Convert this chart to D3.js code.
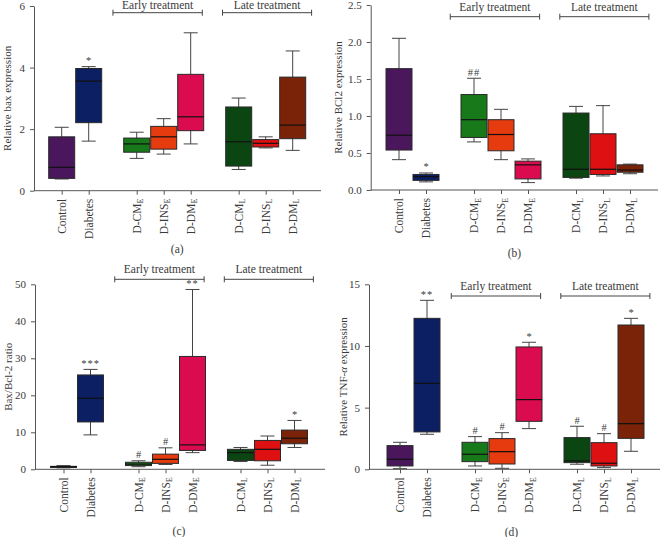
<!DOCTYPE html>
<html><head><meta charset="utf-8">
<script src="https://cdn.jsdelivr.net/npm/d3@7"></script>
<style>
body{margin:0;background:#fff}
svg{display:block}
text{font-family:"Liberation Serif","Times New Roman",serif;fill:#3a3a3a}
</style>
</head><body>
<svg id="chart" width="660" height="537"></svg>
<script>
// ---------- data ----------
const catBase  = ["Control","Diabetes","D-CM","D-INS","D-DM","D-CM","D-INS","D-DM"];
const catSub   = ["","","E","E","E","L","L","L"];
const catGroup = [0,0,1,1,1,2,2,2];
const boxColors = ["#4a165c","#0c1f63","#17791a","#e63a0f","#da0b4e","#0b4612","#df1012","#7a2308"];
const groupLabels = ["Early treatment","Late treatment"];

// (a) Relative bax expression
const baxMin = [0.38,1.61,1.05,1.19,1.52,0.69,1.39,1.31];
const baxQ1  = [0.40,2.21,1.25,1.35,1.95,0.80,1.42,1.69];
const baxMed = [0.76,3.56,1.52,1.75,2.40,1.59,1.54,2.13];
const baxQ3  = [1.75,3.97,1.71,2.09,3.78,2.72,1.66,3.69];
const baxMax = [2.06,4.03,1.90,2.34,5.13,3.01,1.75,4.54];
const baxSig = ["","*","","","","","",""];
const baxTicks = [0,2,4,6];

// (b) Relative BCl2 expression
const bclMin = [0.41,0.11,0.65,0.41,0.10,0.16,0.19,0.22];
const bclQ1  = [0.54,0.13,0.71,0.53,0.15,0.17,0.21,0.24];
const bclMed = [0.74,0.18,0.95,0.75,0.34,0.28,0.28,0.27];
const bclQ3  = [1.64,0.21,1.29,0.95,0.39,1.04,0.76,0.34];
const bclMax = [2.05,0.23,1.51,1.09,0.42,1.13,1.14,0.35];
const bclSig = ["","*","##","","","","",""];
const bclTicks = [0,0.5,1.0,1.5,2.0,2.5];

// (c) Bax/Bcl-2 ratio
const ratMin = [0.4,9.3,0.7,1.3,4.5,2.1,1.1,5.9];
const ratQ1  = [0.5,12.8,1.0,1.6,5.1,2.4,2.3,6.9];
const ratMed = [0.7,19.2,1.4,2.7,6.6,4.5,5.4,8.4];
const ratQ3  = [0.8,25.5,1.9,4.1,30.5,5.4,7.8,10.6];
const ratMax = [1.0,27.0,2.3,5.8,48.6,5.9,9.0,13.2];
const ratSig = ["","***","#","#","**","","","*"];
const ratTicks = [0,10,20,30,40,50];

// (d) Relative TNF-α expression
const tnfMin = [0.05,2.84,0.27,0.08,3.30,0.41,0.14,1.46];
const tnfQ1  = [0.27,3.03,0.62,0.43,3.89,0.54,0.27,2.51];
const tnfMed = [0.81,6.97,1.22,1.43,5.65,0.68,0.49,3.70];
const tnfQ3  = [1.92,12.24,2.19,2.49,9.92,2.57,2.16,11.70];
const tnfMax = [2.19,13.70,2.65,2.97,10.30,3.49,2.89,12.24];
const tnfSig = ["","**","#","#","*","#","#","*"];
const tnfTicks = [0,5,10,15];

// ---------- layout ----------
const svg = d3.select("#chart");
const STEP = 27, GAP = 21, CAP = 14;
const slots = catGroup.map((g,i)=> i + g*GAP/STEP);

const panels = [
  {tag:"(a)", min:baxMin,q1:baxQ1,med:baxMed,q3:baxQ3,max:baxMax,sig:baxSig,ticks:baxTicks,fmt:d3.format("d"),
   title:["Relative bax expression"], axisX:34, axisEnd:321, y0:190.7, yT:6, first:61.7, brY:12.7, labX:11, tagY:253},
  {tag:"(b)", min:bclMin,q1:bclQ1,med:bclMed,q3:bclQ3,max:bclMax,sig:bclSig,ticks:bclTicks,fmt:d3.format(".1f"),
   title:["Relative BCl2 expression"], axisX:370.7, axisEnd:658, y0:190, yT:5, first:399, brY:16.7, labX:341.5, tagY:257},
  {tag:"(c)", min:ratMin,q1:ratQ1,med:ratMed,q3:ratQ3,max:ratMax,sig:ratSig,ticks:ratTicks,fmt:d3.format("d"),
   title:["Bax/Bcl-2 ratio"], axisX:35, axisEnd:325, y0:469.3, yT:284.3, first:63.5, brY:279.3, labX:12, tagY:535},
  {tag:"(d)", min:tnfMin,q1:tnfQ1,med:tnfMed,q3:tnfQ3,max:tnfMax,sig:tnfSig,ticks:tnfTicks,fmt:d3.format("d"),
   title:["Relative TNF-","α"," expression"], axisX:369, axisEnd:660, y0:469.3, yT:284.3, first:400, brY:296, labX:346.5, tagY:536}
];

panels.forEach(p=>{
  const g = svg.append("g");
  const y = d3.scaleLinear().domain([0, d3.max(p.ticks)]).range([p.y0, p.yT]);
  const x = d3.scaleLinear().domain([0,1]).range([p.first, p.first+STEP]);

  // y axis
  const ya = g.append("g").attr("transform",`translate(${p.axisX},0)`)
    .call(d3.axisLeft(y).tickValues(p.ticks).tickFormat(p.fmt).tickSize(4).tickPadding(5).tickSizeOuter(0));
  ya.select(".domain").attr("stroke","#555");
  ya.selectAll(".tick line").attr("stroke","#555");
  ya.selectAll(".tick text").attr("font-family","Liberation Serif").attr("font-size",11).attr("fill","#3a3a3a");

  // x axis
  g.append("line").attr("x1",p.axisX).attr("x2",p.axisEnd).attr("y1",p.y0).attr("y2",p.y0)
    .attr("stroke","#555").attr("stroke-width",1);
  const xa = g.append("g").attr("transform",`translate(0,${p.y0})`)
    .call(d3.axisBottom(x).tickValues(slots).tickFormat("").tickSize(4).tickSizeOuter(0));
  xa.select(".domain").remove();
  xa.selectAll(".tick line").attr("stroke","#555");

  // x labels
  slots.forEach((s,i)=>{
    const t = g.append("text")
      .attr("transform",`translate(${x(s)},${p.y0+8}) rotate(-90)`)
      .attr("text-anchor","end").attr("dy","0.35em").attr("font-size",11.5);
    t.append("tspan").text(catBase[i]);
    if(catSub[i]) t.append("tspan").attr("font-size",8).attr("dy",2.5).text(catSub[i]);
  });

  // boxes
  slots.forEach((s,i)=>{
    const cx = x(s), hw = STEP/2;
    g.append("line").attr("x1",cx).attr("x2",cx).attr("y1",y(p.max[i])).attr("y2",y(p.min[i]))
      .attr("stroke","#444").attr("stroke-width",1);
    [p.max[i],p.min[i]].forEach(v=>{
      g.append("line").attr("x1",cx-CAP/2).attr("x2",cx+CAP/2).attr("y1",y(v)).attr("y2",y(v))
        .attr("stroke","#444").attr("stroke-width",1);
    });
    g.append("rect").attr("x",cx-hw+0.5).attr("width",STEP-1)
      .attr("y",y(p.q3[i])).attr("height",Math.max(1,y(p.q1[i])-y(p.q3[i])))
      .attr("fill",boxColors[i]).attr("stroke","#2a2a2a").attr("stroke-width",1);
    g.append("line").attr("x1",cx-hw+0.5).attr("x2",cx+hw-0.5).attr("y1",y(p.med[i])).attr("y2",y(p.med[i]))
      .attr("stroke","#111").attr("stroke-width",1.2);
    if(p.sig[i]){
      g.append("text").attr("x",cx).attr("y",y(p.max[i])-2.5).attr("text-anchor","middle")
        .attr("font-size",10.5).attr("fill","#555").attr("letter-spacing",p.sig[i].length>1?1:0).text(p.sig[i]);
    }
  });

  // brackets
  const brs = [[x(slots[2])-0.88*STEP, x(slots[4])+0.43*STEP],[x(slots[5])-0.6*STEP, x(slots[7])+0.7*STEP]];
  brs.forEach((b,k)=>{
    g.append("line").attr("x1",b[0]).attr("x2",b[1]).attr("y1",p.brY).attr("y2",p.brY).attr("stroke","#444");
    [b[0],b[1]].forEach(xx=>g.append("line").attr("x1",xx).attr("x2",xx).attr("y1",p.brY-3).attr("y2",p.brY+3).attr("stroke","#444"));
    g.append("text").attr("x",(b[0]+b[1])/2).attr("y",Math.max(p.brY-6,8.5)).attr("text-anchor","middle")
      .attr("font-size",11.5).text(groupLabels[k]);
  });

  // y title
  const yt = g.append("text")
    .attr("transform",`translate(${p.labX},${(p.y0+p.yT)/2}) rotate(-90)`)
    .attr("text-anchor","middle").attr("font-size",11);
  p.title.forEach(s=>{
    const ts = yt.append("tspan").text(s);
    if(s==="α") ts.attr("font-style","italic");
  });

  // panel tag
  g.append("text").attr("x",(x(slots[0])+x(slots[7]))/2+(p.tag==="(d)"?-4:0)).attr("y",p.tagY).attr("text-anchor","middle")
    .attr("font-size",11.5).text(p.tag);
});
</script>
</body></html>
